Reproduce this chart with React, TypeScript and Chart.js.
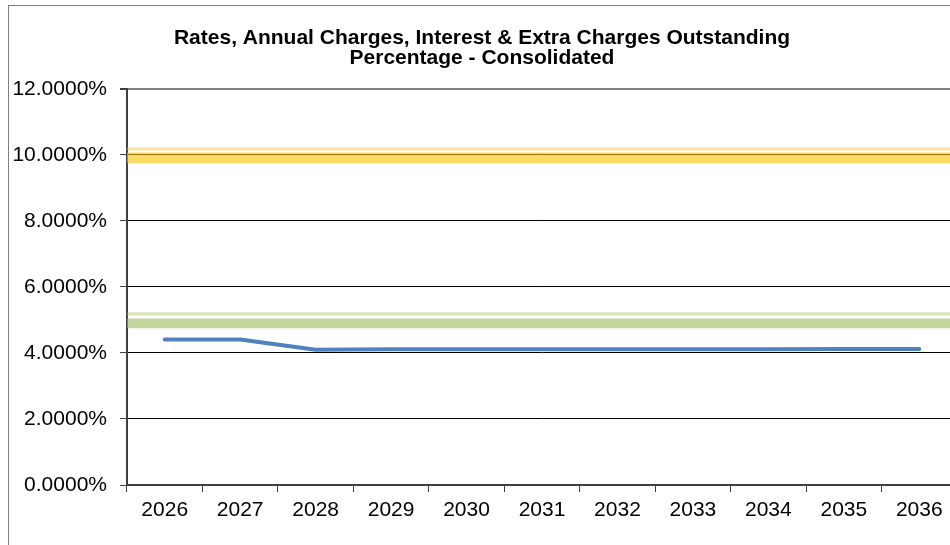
import React, { useEffect, useRef } from "react";
import { Chart, registerables } from "chart.js";

Chart.register(...registerables);

const categories = ["2026", "2027", "2028", "2029", "2030", "2031", "2032", "2033", "2034", "2035", "2036"];
const outstandingPct = [4.41, 4.41, 4.1, 4.11, 4.11, 4.11, 4.11, 4.11, 4.11, 4.12, 4.12];
const upperBenchmark = [10, 10, 10, 10, 10, 10, 10, 10, 10, 10, 10];
const lowerBenchmark = [5, 5, 5, 5, 5, 5, 5, 5, 5, 5, 5];
const titleLines = ["Rates, Annual Charges, Interest & Extra Charges Outstanding", "Percentage - Consolidated"];

const FONT = "'Liberation Sans', Arial, sans-serif";

const compoundPlugin = {
  id: "compoundLine",
  beforeDatasetDraw(chart: any, args: any) {
    const ds = chart.data.datasets[args.index];
    if (!ds.compound) return;
    const pt = args.meta.data[0];
    if (!pt) return false;
    const y = pt.y;
    const { left, right, top, bottom } = chart.chartArea;
    const ctx = chart.ctx;
    ctx.save();
    ctx.beginPath();
    ctx.rect(left, top, right - left, bottom - top);
    ctx.clip();
    for (const s of ds.compound) {
      ctx.fillStyle = s.color;
      ctx.fillRect(left, y + s.from, right - left, s.to - s.from);
    }
    ctx.restore();
    return false;
  },
};

export default function App() {
  const ref = useRef<HTMLCanvasElement>(null);
  useEffect(() => {
    if (!ref.current) return;
    const chart = new Chart(ref.current, {
      type: "line",
      data: {
        labels: categories,
        datasets: [
          {
            label: "Upper benchmark",
            data: upperBenchmark,
            borderColor: "rgba(255,192,0,0.6)",
            pointRadius: 0,
            compound: [
              { from: -7.7, to: -4.5, color: "rgba(255,192,0,0.4)" },
              { from: -2.5, to: 8.3, color: "rgba(255,192,0,0.6)" },
            ],
          } as any,
          {
            label: "Lower benchmark",
            data: lowerBenchmark,
            borderColor: "rgba(155,187,89,0.6)",
            pointRadius: 0,
            compound: [
              { from: -7.7, to: -4.3, color: "rgba(155,187,89,0.4)" },
              { from: -1.5, to: 8.3, color: "rgba(155,187,89,0.6)" },
            ],
          } as any,
          {
            label: "Outstanding %",
            data: outstandingPct,
            borderColor: "#4F81BD",
            borderWidth: 4,
            borderCapStyle: "round",
            borderJoinStyle: "round",
            pointRadius: 0,
            tension: 0,
          },
        ],
      },
      options: {
        responsive: false,
        animation: false,
        layout: { padding: { left: 7, right: 43, top: 0, bottom: 75 } },
        plugins: {
          legend: { display: false },
          tooltip: { enabled: false },
          title: {
            display: true,
            text: titleLines,
            color: "#000",
            font: { family: FONT, size: 21, weight: "bold", lineHeight: 0.95 },
            padding: { top: 28, bottom: 21 },
          },
        },
        scales: {
          x: {
            type: "category",
            offset: true,
            afterFit: (s: any) => {
              s.height = 40;
            },
            grid: {
              offset: true,
              drawOnChartArea: false,
              drawTicks: true,
              tickLength: 7,
              tickColor: "#404040",
            },
            border: { display: true, color: "#404040", width: 2 },
            ticks: {
              color: "#000",
              padding: 6,
              maxRotation: 0,
              font: { family: FONT, size: 21 },
            },
          },
          y: {
            min: 0,
            max: 12,
            afterFit: (s: any) => {
              s.width = 120;
            },
            grid: {
              color: (c: any) => (c.tick && c.tick.value === 12 ? "#808080" : "#000"),
              lineWidth: (c: any) => (c.tick && c.tick.value === 12 ? 2 : 1),
              tickLength: 7,
              tickColor: "#404040",
            },
            border: { display: true, color: "#404040", width: 2 },
            ticks: {
              stepSize: 2,
              color: "#000",
              padding: 13,
              font: { family: FONT, size: 21 },
              callback: (v: any) => Number(v).toFixed(4) + "%",
            },
          },
        },
      },
      plugins: [compoundPlugin],
    } as any);
    return () => chart.destroy();
  }, []);

  return (
    <div style={{ position: "fixed", left: 0, top: 0, width: 950, height: 545, overflow: "hidden", background: "#fff" }}>
      <div
        style={{
          position: "absolute",
          left: 8,
          top: 5,
          width: 1100,
          height: 700,
          border: "1px solid #808080",
          boxSizing: "border-box",
        }}
      />
      <canvas ref={ref} width={1000} height={600} style={{ position: "absolute", left: 0, top: 0 }} />
    </div>
  );
}
